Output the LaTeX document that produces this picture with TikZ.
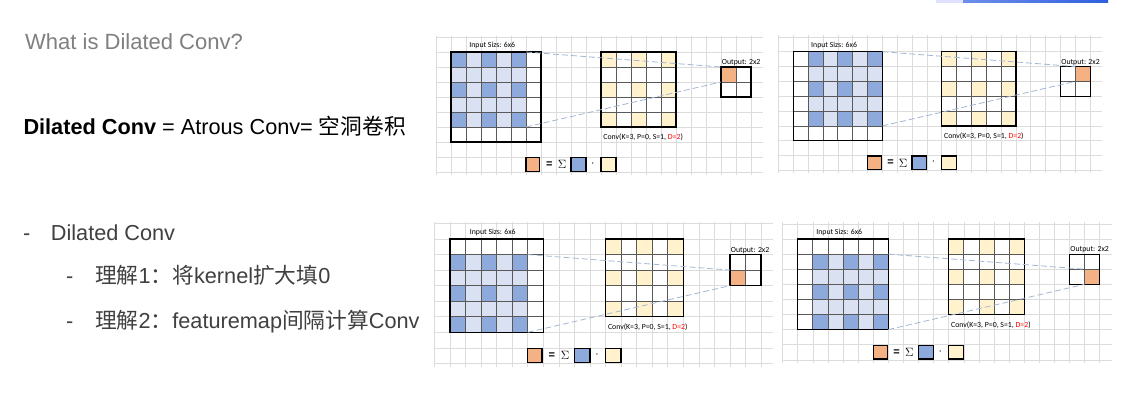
\documentclass[tikz,border=0pt]{standalone}
\usepackage{fontspec}
\setmainfont{Liberation Sans}
\newfontfamily\cjk{Noto Sans CJK SC}
\newfontfamily\calfont{Carlito}
\usetikzlibrary{positioning}

\definecolor{kblue}{HTML}{8EA9DB}
\definecolor{klight}{HTML}{D9E1F2}
\definecolor{kcream}{HTML}{FFF2CC}
\definecolor{korange}{HTML}{F4B183}
\definecolor{bggray}{HTML}{DCDCDC}
\definecolor{dashblue}{HTML}{A4B6D4}
\definecolor{titlegray}{HTML}{7F7F7F}
\definecolor{textgray}{HTML}{404040}
\definecolor{barblue}{HTML}{2F5FE0}

\tikzset{
  bgline/.style={draw=bggray, line width=0.6pt},
  cellline/.style={draw=black!65, line width=0.7pt},
  boxline/.style={draw=black, line width=1.2pt},
  link/.style={draw=dashblue, line width=0.8pt, dash pattern=on 6pt off 3pt},
  smalllabel/.style={font=\calfont\fontsize{7.8}{9}\selectfont, inner sep=0pt},
  eqsym/.style={font=\fontsize{12}{13}\selectfont, inner sep=0pt},
  slidetext/.style={anchor=base west, inner sep=0pt, font=\fontsize{21.7}{26}\selectfont}
}

% one dilated conv step: #1 name, #2/#3 top left of input, #4 cell size,
% #5/#6 offset of the dilated window
\newcommand{\dilpanel}[6]{
\begin{scope}[shift={(#2,#3)}, x=#4pt, y=-#4pt]
  % background sheet
  \foreach \c in {-1,...,20}
    \draw[bgline] (\c,-1.1) -- (\c,8.2);
  \foreach \r in {-1,...,8}
    \draw[bgline] (-1,\r) -- (20.8,\r);
  % input 6x6
  \fill[white] (0,0) rectangle (6,6);
  \foreach \i in {0,...,4}
    \foreach \j in {0,...,4}
      \fill[klight] ({\i+#5},{\j+#6}) rectangle +(1,1);
  \foreach \i in {0,2,4}
    \foreach \j in {0,2,4}
      \fill[kblue] ({\i+#5},{\j+#6}) rectangle +(1,1);
  \foreach \k in {1,...,5} {
    \draw[cellline] (\k,0) -- (\k,6);
    \draw[cellline] (0,\k) -- (6,\k);
  }
  \draw[boxline] (0,0) rectangle (6,6);
  \node[smalllabel, anchor=base] (#1-inlabel) at (2.75,-0.27) {Input Sizs: 6x6};
  % kernel 5x5
  \fill[white] (10,0) rectangle (15,5);
  \foreach \i in {0,2,4}
    \foreach \j in {0,2,4}
      \fill[kcream] ({10+\i},\j) rectangle +(1,1);
  \foreach \k in {1,...,4} {
    \draw[cellline] ({10+\k},0) -- ({10+\k},5);
    \draw[cellline] (10,\k) -- (15,\k);
  }
  \draw[boxline] (10,0) rectangle (15,5);
  \node[smalllabel, anchor=base west] (#1-convlabel) at (10.15,5.83)
    {Conv(K=3, P=0, S=1, \textcolor{red}{D=2})};
  % output 2x2
  \fill[white] (18,1) rectangle (20,3);
  \fill[korange] ({18+#5},{1+#6}) rectangle +(1,1);
  \draw[cellline] (19,1) -- (19,3);
  \draw[cellline] (18,2) -- (20,2);
  \draw[boxline] (18,1) rectangle (20,3);
  \node[smalllabel, anchor=base west] (#1-outlabel) at (18.05,0.85) {Output: 2x2};
  % dashed links
  \coordinate (#1-wintop) at ({5+#5},#6);
  \coordinate (#1-winbot) at ({5+#5},{5+#6});
  \coordinate (#1-outtop) at ({18+#5},{1+#6});
  \coordinate (#1-outbot) at ({18+#5},{2+#6});
  \draw[link] (#1-wintop) -- (#1-outtop);
  \draw[link] (#1-winbot) -- (#1-outbot);
  % sum of products
  \draw[boxline, fill=korange] (5,7.03) rectangle (5.92,7.95);
  \node[eqsym, font=\fontsize{11}{12}\bfseries] (#1-eq) at (6.55,7.5) {=};
  \node[eqsym] (#1-sum) at (7.4,7.5) {$\Sigma$};
  \draw[boxline, fill=kblue] (8,7.03) rectangle (9,7.95);
  \node[eqsym] (#1-dot) at (9.45,7.45) {$\cdot$};
  \draw[boxline, fill=kcream] (10,7.03) rectangle (11,7.95);
\end{scope}
}

\begin{document}
\begin{tikzpicture}[x=1pt, y=-1pt]
  \fill[white] (0,0) rectangle (1121,416);
  \useasboundingbox (0,0) rectangle (1121,416);
  % bar at the top
  \fill[blue!12] (936,0) rectangle (963,2.5);
  \shade[left color=barblue!70, right color=barblue] (963,0) rectangle (1108,2.5);

  % left column of text
  \node[slidetext, text=titlegray, font=\fontsize{22}{26}\selectfont] (title) at (25,49.3) {What is Dilated Conv?};
  \node[slidetext] (defline) at (23.3,134) {\textbf{Dilated Conv} = Atrous Conv= {\cjk 空洞卷积}};
  \node[slidetext, text=textgray] (dash1) at (23,240.7) {-};
  \node[slidetext, text=textgray] (item1) at (50.7,240.7) {Dilated Conv};
  \node[slidetext, text=textgray] (dash2) at (66,283) {-};
  \node[slidetext, text=textgray] (item2) at (95,283) {{\cjk 理解}1{\cjk ：将}kernel{\cjk 扩大填}0};
  \node[slidetext, text=textgray] (dash3) at (66,328) {-};
  \node[slidetext, text=textgray] (item3) at (95,328) {{\cjk 理解}2{\cjk ：}featuremap{\cjk 间隔计算}Conv};

  % the four steps
  \dilpanel{p1}{451}{52}{15}{0}{0}
  \dilpanel{p2}{793.3}{51.7}{14.84}{1}{0}
  \dilpanel{p3}{450}{239}{15.55}{0}{1}
  \dilpanel{p4}{797.7}{239}{15.1}{1}{1}
\end{tikzpicture}
\end{document}
